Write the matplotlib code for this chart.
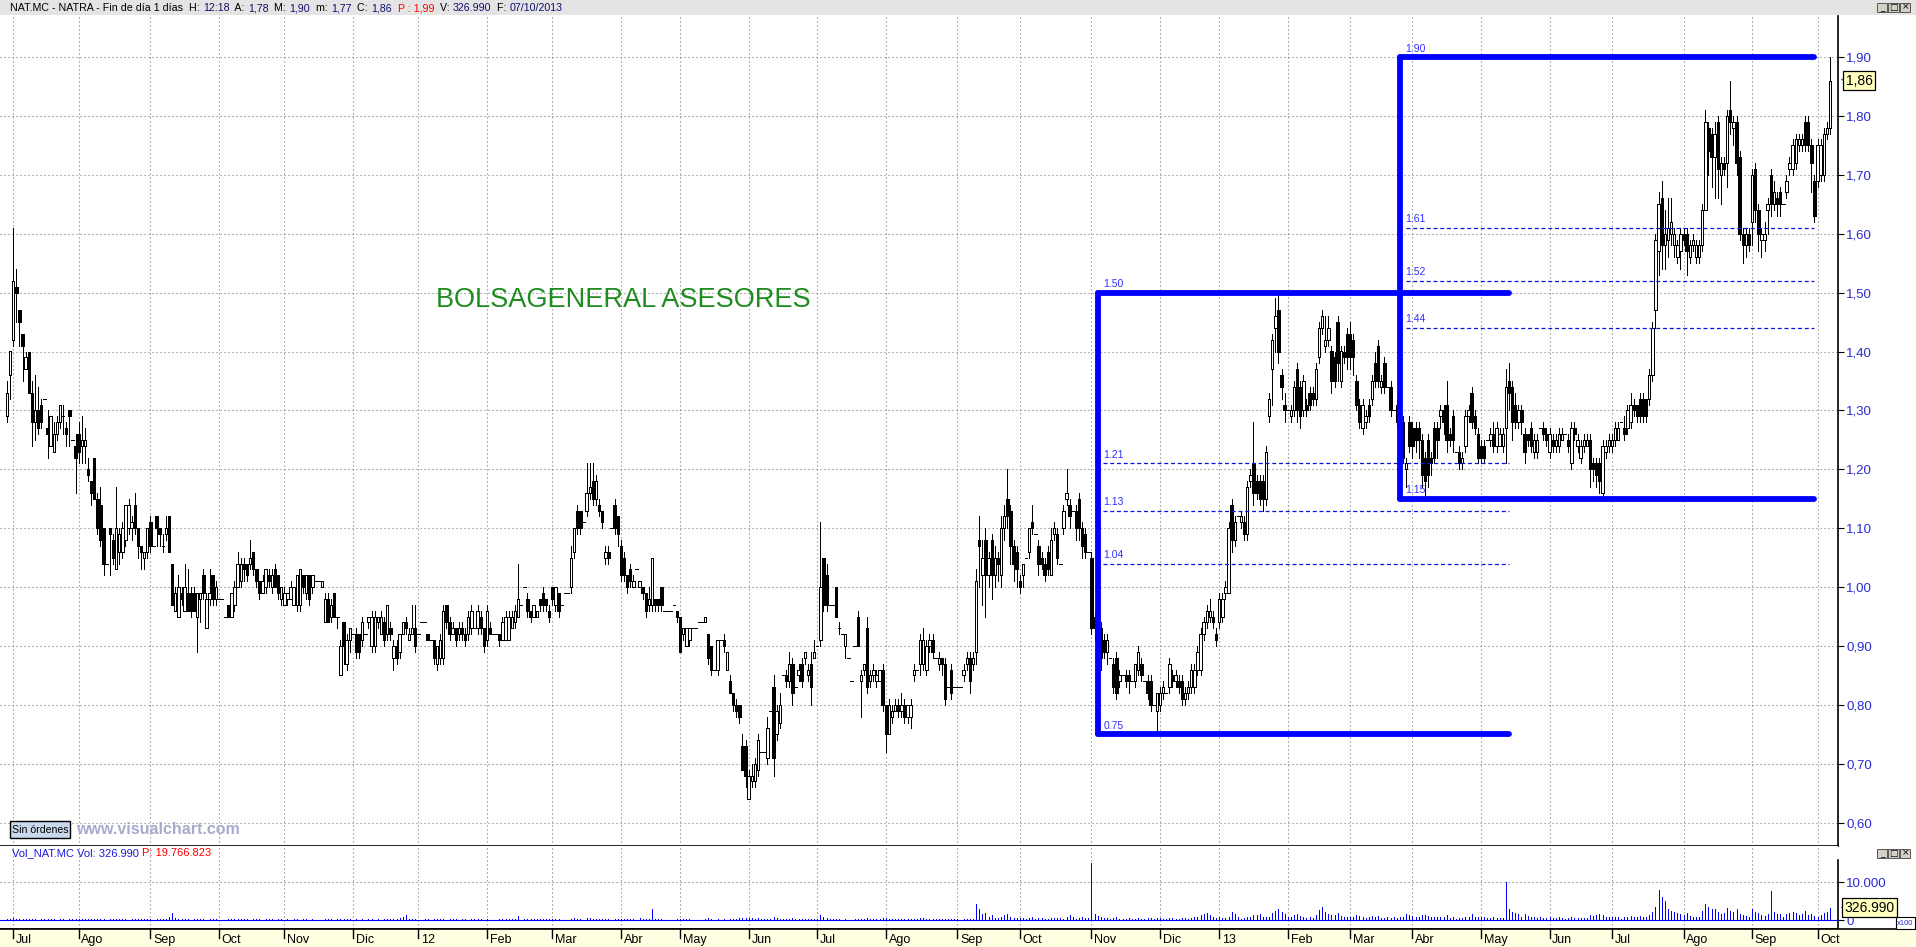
import matplotlib
matplotlib.use("Agg")
import matplotlib.transforms as mtransforms
from matplotlib import pyplot as plt
from matplotlib.patches import Rectangle

plt.rcParams["font.family"] = ["Liberation Sans", "DejaVu Sans"]

# daily bars in cents, one string per month: "open,close,high,low" / "open,close" / "price" (flat)
JUN11 = "129,133,135,128 136,140,140,132"
JUL11 = ("142,152,161,141 151,150,154,145 147,145,147,141 143,141,143,135 137,139,140,137 140,133 "
         "133,128,135,124 128,130,136,125 130,127,134,126 131,128,132,127 132 127,126,130,122 124,129 "
         "123,126,128,123 126,128,129,125 128,131,131,127 129,129,131,126 127,126,128,124 130,129,130,124 "
         "125 124,122,126,116")
AGO11 = ("126,123,128,121 124,125,129,121 124,125,127,121 120,119,122,118 118,116,118,114 122,115,122,115 "
         "115,110,116,109 114,108,117,107 110,104,110,102 104 110,109,110,102 108,105,109,104 103,110,117,103 "
         "106,109,110,104 106,110,111,105 108,114,114,107 110,114,115,109 110,111,112,108 114,110,116,109 "
         "110,107,110,105 107,106,107,103 105,106,106,103 106,110,110,105")
SEP11 = ("111,107,112,106 107 112,110,112,107 110,109,110,107 107,107,109,106 109,110,112,108 112,106,112,106 "
         "104,97,104,97 96,99,100,96 95,100,102,95 99,98,100,97 96,100,104,96 99,96,103,96 99,96,100,95 "
         "99,96,100,96 95,99,99,89 98,99,99,94 102,99,103,98 93,98,99,93 98,99,103,97 102,98,102,97 98,100,101,97")
OCT11 = ("98 98 95 97,95,97,95 95,99,99,95 97,100,101,96 100,104,106,100 101,104,105,100 104,103,105,101 "
         "104,102,104,101 104,105,108,103 106,103,106,102 103,101,103,100 101,99,101,98 99,101,102,99 "
         "100,103,103,99 102,101,103,100 100,102,103,99 103,100,104,100 102,99,102,98 98,100,100,97")
NOV11 = ("97,99,100,97 98,99,99,97 98,100,101,98 97,100,100,97 97,102,102,96 97,103,103,96 102,100,102,99 "
         "99,102,102,98 102,98,102,97 100,102,102,99 101 101 100,101,101,100 94,98,99,94 98,94,99,94 "
         "95,97,98,94 99,95,99,95 95,95,95,93 85,90,91,85 94,90,94,87 87,91,92,86 91,93,93,89")
DIC11 = ("92 92,89,93,88 92,89,92,88 91,94,95,90 92 94,95,95,93 90,95,96,89 90,95,96,89 94,95,95,93 "
         "92,95,96,92 94,91,95,90 92,97,97,91 93,92,94,91 88,90,91,86 90,88,91,87 89,92,92,88 92,94,94,92 "
         "94,93,95,92 91,92,93,91 92,93,97,92 93,90,97,89")
JAN12 = ("92 94 94 92,91,92,91 91 91,88,91,87 87,90,90,86 88,91,92,87 88,96,97,87 97,94,97,93 94,92,95,91 "
         "92,93,94,92 93,91,93,90 92,93,94,91 93,92,94,91 92,91,93,90 92,95,96,91 93,96,97,92 93 "
         "93,96,97,92 95,93,96,92 93,90,93,89")
FEB12 = ("91,96,97,90 93,92,94,92 92 92 92,91,92,90 91,94,95,91 91,95,96,91 91,95,96,91 93,95,96,93 "
         "94,96,97,93 95,98,104,95 97 100 98,96,99,95 96,95,96,94 95,97,97,95 95,96,96,95 98,97,98,96 "
         "99,97,100,96 98,97,98,96 96,95,97,94")
MAR12 = ("100,98,100,97 97,100,100,96 99,96,99,95 97 99 99 100,105,107,99 106,110,110,105 113,110,114,109 "
         "113,110,113,109 111 113,116,121,112 116,117,121,115 118,115,121,114 115,118,119,114 114,113,115,112 "
         "113,111,113,110 105,106,107,104 106,105,107,104 110 114,110,115,109 112,109,112,107")
ABR12 = ("107,102,108,101 105,102,106,101 102,100,102,99 103,101,104,100 100,101,102,100 103 100,101,101,100 "
         "100,99,100,98 99,96,99,95 97,98,100,96 97,105,105,96 98,97,98,96 98,97,98,96 100,97,100,96 "
         "96 96 96 97 96,95,96,94")
MAY12 = ("95,89,95,89 92,93,93,91 90,93,93,90 91,93,93,90 93 93 94 94 94,95,95,94 92,88,92,87 90,86,90,85 "
         "86 86,91,91,85 91 91,90,92,89 86,89,89,86 84,82,85,82 82,80,82,79 80,79,81,78 80,78,80,77 "
         "73,69,75,69 73,68,74,66")
JUN12 = ("64,68,69,64 67,68,70,66 67,70,71,66 69,74,75,68 72 72 71,76,78,70 79 83,71,85,68 75,79,80,74 "
         "77,80,82,76 85 85,84,86,83 84,87,89,83 87,82,88,80 83 85,86,87,84 87,84,88,83 88,89,89,87 "
         "85,86,87,84 87,83,89,80 88,89,91,88")
JUL12 = ("90 91,100,111,90 105,97,105,96 102,97,104,96 97 97 100,95,100,95 93,93,94,92 92 90,92,92,88 88 84 "
         "90 95,90,96,90 84,85,86,78 86,87,87,85 93,83,95,82 84,85,86,83 85,86,87,84 84,85,86,83 "
         "84,86,86,84 86,80,87,79")
AGO12 = ("80,75,80,72 75,80,81,75 78,79,80,77 79,80,81,79 80,79,81,78 79,80,82,78 80,78,81,77 78,80,80,77 "
         "78,80,81,76 85,86,87,84 86 87,91,92,85 87,91,93,86 86,90,91,85 90,91,92,89 91,89,92,88 88 "
         "87,88,89,86 88,87,88,85 87,81,88,80 83 86,82,87,81 83")
SEP12 = ("83 83 85,86,87,84 87,88,89,86 88,84,89,82 87,88,89,86 89,101,103,87 108,107,112,100 "
         "102,105,108,97 108,102,110,95 102,105,106,100 108,102,109,98 102,105,107,100 105,104,106,101 "
         "102,110,112,100 110,112,114,108 115,112,120,110 113,107,114,104 107,104,108,101 106,103,107,100")
OCT12 = ("101,100,102,99 102,104,104,100 105 106,110,110,105 111,110,114,109 109 107,104,108,102 "
         "105,104,106,103 104,102,105,101 106,103,107,102 102,108,110,102 109,110,111,108 109,105,110,104 "
         "104 110,113,114,109 115,116,120,114 114,112,115,110 113 113,110,114,108 115,110,116,108 "
         "110,107,111,105 109,106,110,105 106")
NOV12 = ("105,93,106,92 95,93,96,91 95,91,96,89 93,88,94,86 91,89,92,88 89,91,92,87 88 87,83,88,82 "
         "88,82,89,81 84,85,86,83 85 85,84,86,83 85,84,86,82 84 84,87,87,83 86,89,90,85 87,85,88,84 84 "
         "84,82,85,81 84,80,85,79 80 79,82,82,75")
DIC12 = ("80,82,83,79 82,83,84,81 82 83,87,88,82 85,84,86,83 84,85,86,83 84,83,85,82 84,81,85,80 "
         "81,82,83,80 82,83,84,81 83,86,87,82 83,86,87,82 86,89,90,85 86,92,93,85 92,94,95,91 94,96,97,93 "
         "95,96,98,94 95,94,96,93 92,91,93,90")
JAN13 = ("94,98,99,93 95,98,99,94 99,100,101,98 99,110,111,99 114,108,115,106 108,111,112,107 112 "
         "111,112,113,110 111,109,112,108 109,117,118,108 118,119,120,117 121,116,128,114 118,116,119,115 "
         "118,115,119,114 118,115,119,113 115,123,124,114 129,132,133,128 137,142,143,131 144,146,149,140 "
         "147,140,150,138 136,134,137,132 131,130,133,128")
FEB13 = ("130 129,130,131,128 130,134,135,129 137,130,138,128 134,129,135,127 130,135,136,129 "
         "131,130,132,129 133,131,134,130 133,132,134,131 132,137,138,131 139,144,145,138 144,146,147,143 "
         "141,142,146,140 142,144,146,141 140,135,141,133 139,135,140,134 145,138,146,135 135,140,141,134 "
         "140,139,141,138 143,139,144,137")
MAR13 = ("143,139,145,137 142,139,143,136 135,131,136,130 131,128,132,127 127,131,132,126 128,129,130,127 "
         "131,129,132,128 132,135,136,131 138,135,140,134 141,135,142,134 134,135,136,133 138,134,139,133 "
         "134 134,130,135,129 130 131,128,132,127 131,128,132,126 128,122,129,121 120,121,122,117 "
         "128,124,129,123")
ABR13 = ("127,124,128,122 127,125,128,123 127,125,128,122 125,119,126,117 122,118,123,115 125,119,126,117 "
         "122,121,123,119 127,122,128,121 127,125,128,122 129,130,131,127 130,128,131,126 131,125,135,123 "
         "126,125,127,124 129,125,130,123 123 123,121,124,120 121,122,123,120 124,129,130,123 "
         "129,130,131,128 133,128,134,127 129,127,130,126 126,122,127,121")
MAY13 = ("124,122,125,121 124,122,125,121 125 125,126,127,124 126,124,128,123 124,127,128,123 "
         "124,126,127,124 124,126,127,123 127,134,137,121 135,133,138,130 134,128,135,125 131,128,133,127 "
         "128,130,131,127 130,128,131,126 126,123,127,121 126,125,126,124 127,124,128,123 123,125,126,122 "
         "123,125,126,122 127 127,126,128,125 126,125,127,124")
JUN13 = ("123,126,127,122 125,124,126,123 124,125,126,123 124,126,127,123 125,126,127,125 126 "
         "125,124,126,123 121,127,128,120 127,126,128,125 124,125,126,123 122,124,125,121 124,125,126,123 "
         "124,125,126,124 125,120,126,117 121,120,122,118 121,119,122,117 121,118,122,116 116,124,125,115 "
         "123,124,125,122 124,125,126,123")
JUL13 = ("124,125,126,123 125,127,128,124 125,127,128,125 128 127,126,129,125 127,130,131,126 "
         "128,131,133,127 131,130,132,129 131,129,131,128 132,129,133,128 132,129,133,128 132,129,132,128 "
         "132,136,137,131 136,144,145,135 147,159,160,144 157,165,167,153 166,158,169,154 158,160,164,154 "
         "159,161,166,156 160,162,166,158 158,160,161,156 156,158,159,155 157,160,161,154")
AGO13 = ("160,159,161,158 160,157,161,153 156,158,159,155 158,159,160,157 156,158,159,155 156,158,159,155 "
         "158,164,165,157 164,179,181,164 178,174,179,170 177,173,178,168 173,177,179,166 179,171,180,166 "
         "170,172,173,165 172,171,173,170 172,180,181,168 181,179,186,177 178,179,180,175 179,172,180,170 "
         "173,160,174,159 160,158,161,155 158,160,161,156 160,158,161,157")
SEP13 = ("162,170,171,158 171,164,172,162 164,160,165,157 159,160,161,156 159,160,162,157 164,165,166,160 "
         "170,165,171,163 165,167,169,164 166,165,167,163 167,165,168,163 165 167,169,170,166 "
         "171,172,173,170 171,175,176,170 172,176,177,171 175,176,177,174 175,176,177,174 179,175,180,174 "
         "179,175,180,174 175,172,176,167 169,163,170,162")
OCT13 = "169,175,176,168 170,175,176,169 170,177,178,169 177,178,179,176 178,186,190,177"

# daily volume, hundreds of shares, same order
V_JUN11 = "300 250"
V_JUL11 = "400 300 200 250 150 300 200 250 100 150 200 300 250 150 100 200 150 100 250 200 150"
V_AGO11 = "200 250 300 150 200 350 300 200 250 100 300 150 200 150 250 200 100 150 200 250 150 200 300"
V_SEP11 = "150 100 250 200 150 300 800 1900 400 300 200 150 250 100 200 300 150 200 100 150 250 200"
V_OCT11 = "100 100 50 150 200 150 300 250 150 200 100 300 200 150 100 250 200 150 100 200 150"
V_NOV11 = "100 150 100 200 150 100 250 200 100 150 50 50 100 200 150 250 100 150 300 200 150 200"
V_DIC11 = "100 150 100 200 100 150 200 100 150 100 250 300 150 200 350 500 800 1300 300 200 150"
V_JAN12 = "100 100 150 200 100 150 200 300 150 100 250 200 150 100 150 200 100 150 200 250 150 100"
V_FEB12 = "200 100 50 50 150 300 200 250 150 350 1050 100 150 200 250 150 200 300 250 200 150"
V_MAR12 = "200 250 150 100 100 100 300 400 350 250 100 450 500 350 300 250 200 150 200 100 250 300"
V_ABR12 = "250 200 150 200 300 100 400 300 250 200 2800 300 200 150 100 100 100 100 200"
V_MAY12 = "300 200 250 150 100 100 100 100 150 400 350 100 250 100 200 100 200 300 350 400 500 600"
V_JUN12 = "500 400 300 450 200 200 350 150 800 400 300 150 200 250 400 200 150 250 300 200 250 300"
V_JUL12 = "200 1200 800 500 200 200 300 250 100 200 100 100 200 350 150 200 500 250 200 150 200 400"
V_AGO12 = "500 300 200 150 200 150 250 200 300 250 150 400 450 300 250 200 150 200 250 300 150 250 150"
V_SEP12 = "150 100 200 250 300 200 4200 2900 1500 1900 800 1200 600 500 900 1300 1600 900 600 500"
V_OCT12 = "400 500 200 600 700 200 500 400 300 200 400 600 500 400 200 700 1400 800 300 600 900 500 400"
V_NOV12 = "15000 1500 1000 800 500 400 200 600 700 300 200 300 400 200 300 500 300 200 400 500 200 400"
V_DIC12 = "500 300 200 600 400 300 300 500 400 300 600 700 900 1300 1500 1800 1200 800 600"
V_JAN13 = "700 600 500 800 2200 1500 900 300 600 700 800 1400 1200 1600 900 800 700 1800 2500 3000 2200 1500"
V_FEB13 = "700 800 1200 1500 1000 900 600 700 600 1200 2600 3500 2000 1500 1300 1200 1800 1000 800 900"
V_MAR13 = "900 800 1200 1000 900 600 700 1000 800 1000 500 600 800 400 900 400 700 800 1500 1300"
V_ABR13 = "1000 900 800 1300 1400 1100 700 800 900 900 700 1200 600 800 300 600 500 900 800 1500 700 800"
V_MAY13 = "900 800 400 600 700 500 600 500 9900 2800 2200 1800 1500 900 1500 1100 900 800 400 700 600 500"
V_JUN13 = "700 600 500 700 400 300 500 900 600 500 600 500 400 1400 1000 1200 1600 1400 900 800"
V_JUL13 = "700 900 800 300 700 900 1000 900 800 1000 900 800 1300 2200 3500 7900 6000 5000 3000 2500 2000 1800 1500"
V_AGO13 = "1200 1800 1000 900 800 700 2500 4200 3500 3000 2800 2200 1500 1800 3200 2500 2200 3000 1500 1200 1000 900"
V_SEP13 = "2800 2200 1800 1200 1000 1500 7700 2000 1500 1700 900 1500 1800 2200 1800 1200 1500 2500 1300 1500 1000"
V_OCT13 = "900 1200 1800 2000 3270"

MONTH_LABELS = ["", "Jul", "Ago", "Sep", "Oct", "Nov", "Dic", "12", "Feb", "Mar", "Abr", "May", "Jun",
                "Jul", "Ago", "Sep", "Oct", "Nov", "Dic", "13", "Feb", "Mar", "Abr", "May", "Jun",
                "Jul", "Ago", "Sep", "Oct"]
PRICE_MONTHS = [JUN11, JUL11, AGO11, SEP11, OCT11, NOV11, DIC11, JAN12, FEB12, MAR12, ABR12, MAY12, JUN12,
                JUL12, AGO12, SEP12, OCT12, NOV12, DIC12, JAN13, FEB13, MAR13, ABR13, MAY13, JUN13,
                JUL13, AGO13, SEP13, OCT13]
VOLUME_MONTHS = [V_JUN11, V_JUL11, V_AGO11, V_SEP11, V_OCT11, V_NOV11, V_DIC11, V_JAN12, V_FEB12, V_MAR12,
                 V_ABR12, V_MAY12, V_JUN12, V_JUL12, V_AGO12, V_SEP12, V_OCT12, V_NOV12, V_DIC12, V_JAN13,
                 V_FEB13, V_MAR13, V_ABR13, V_MAY13, V_JUN13, V_JUL13, V_AGO13, V_SEP13, V_OCT13]

# fibonacci boxes drawn on the chart: first bar, last bar, low, high, levels
FIB_BOXES = [
    (350, 482, 0.75, 1.50, [1.21, 1.13, 1.04]),
    (447, 580, 1.15, 1.90, [1.61, 1.52, 1.44]),
]
PRICE_TICKS = [0.6, 0.7, 0.8, 0.9, 1.0, 1.1, 1.2, 1.3, 1.4, 1.5, 1.6, 1.7, 1.8, 1.9]
LAST_CLOSE = 1.86
LAST_VOLUME = 3269.9

# ---- parse ----
opens, highs, lows, closes, vols, month_start = [], [], [], [], [], []
for prices, volumes in zip(PRICE_MONTHS, VOLUME_MONTHS):
    toks, vv = prices.split(), volumes.split()
    if len(toks) != len(vv):
        raise ValueError(f"count mismatch {prices[:25]!r}: {len(toks)} bars, {len(vv)} volumes")
    month_start.append(len(opens))
    for tok, v in zip(toks, vv):
        p = [int(t) / 100 for t in tok.split(",")]
        if len(p) == 1:
            o = c = h = l = p[0]
        elif len(p) == 2:
            o, c = p
            h, l = max(p), min(p)
        else:
            o, c, h, l = p
        opens.append(o); closes.append(c); highs.append(h); lows.append(l); vols.append(int(v))
n = len(opens)
idx = list(range(n))

W, H = 1916, 947
fig = plt.figure(figsize=(W / 100, H / 100), dpi=100)
fig.patch.set_facecolor("white")


def px_axes(x0, y0, x1, y1):
    return fig.add_axes([x0 / W, 1 - y1 / H, (x1 - x0) / W, (y1 - y0) / H])


step = (1830 - 7) / (n - 1)
xlim = (-7 / step, (1838 - 7) / step)
grid_kw = dict(color="#7a7a7a", lw=0.8, linestyle=(0, (1, 2.6)), zorder=1)
AXIS_BLUE = "#2a2ad0"

# ---- price panel ----
ax = px_axes(0, 16, 1838, 846)
ax.set_xlim(*xlim)
ax.set_ylim(1.90 - (846 - 57) / 589, 1.90 + (57 - 16) / 589)
for s in ("left", "top"):
    ax.spines[s].set_visible(False)
for s in ("right", "bottom"):
    ax.spines[s].set_linewidth(1.2)
ax.set_xticks([])
ax.yaxis.tick_right()
ax.set_yticks(PRICE_TICKS)
ax.set_yticklabels([f"{t:.2f}".replace(".", ",") for t in PRICE_TICKS], color=AXIS_BLUE, fontsize=9.5)
ax.tick_params(axis="y", length=4, width=0.8, pad=2)
for t in PRICE_TICKS:
    ax.axhline(t, **grid_kw)
for s in month_start[1:]:
    ax.axvline(s, **grid_kw)

ax.vlines(idx, lows, highs, color="black", lw=0.72, zorder=3, antialiased=False)
for i in idx:
    o, c = opens[i], closes[i]
    if abs(c - o) < 0.004:
        ax.hlines(c, i - 0.4, i + 0.4, color="black", lw=0.72, zorder=4, antialiased=False)
    else:
        ax.bar(i, abs(c - o), bottom=min(o, c), width=0.78,
               color="white" if c > o else "black", edgecolor="black", lw=0.7, zorder=4, antialiased=False)

for x0, x1, low, high, levels in FIB_BOXES:
    thick = dict(color="#0000ff", lw=4.2, solid_capstyle="round", zorder=6)
    ax.plot([x0, x0], [low, high], **thick)
    ax.plot([x0, x1], [high, high], **thick)
    ax.plot([x0, x1], [low, low], **thick)
    for lv in levels:
        ax.plot([x0 + 1.8, x1], [lv, lv], color="#1010e0", lw=0.9, dashes=(3.2, 2.2), zorder=5)
    for lv in [high] + levels + [low]:
        ax.annotate(f"{lv:.2f}", (x0 + 1.8, lv), xytext=(0, 2.5), textcoords="offset points",
                    fontsize=7.5, color="#3030ff", va="bottom", ha="left", zorder=7)

# ---- volume panel ----
vax = px_axes(0, 846, 1838, 929)
vax.set_xlim(*xlim)
upx = 10000 / 38
vax.set_ylim(-(929 - 920) * upx, (920 - 846) * upx)
for s in ("left", "top"):
    vax.spines[s].set_visible(False)
vax.spines["right"].set_bounds(-(929 - 920) * upx, (920 - 860) * upx)
vax.spines["right"].set_linewidth(1.2)
vax.spines["bottom"].set_linewidth(1.2)
vax.set_xticks([])
vax.yaxis.tick_right()
vax.set_yticks([0, 10000])
vax.set_yticklabels(["0", "10.000"], color=AXIS_BLUE, fontsize=9.5)
vax.tick_params(axis="y", length=4, width=0.8, pad=2)
vax.axhline(10000, **grid_kw)
for s in month_start[1:]:
    vax.axvline(s, **grid_kw)
vax.axhline(0, color="#0000ff", lw=0.8, zorder=3)
vax.vlines(idx, 0, vols, color="#0000ff", lw=0.72, zorder=4, antialiased=False)

# ---- date strip ----
sax = px_axes(0, 929, 1916, 947)
sax.set_facecolor("#ffffe1")
sax.set_xlim(xlim[0], xlim[0] + (xlim[1] - xlim[0]) * 1916 / 1838)
sax.set_ylim(1, 0)
sax.set_xticks([]); sax.set_yticks([])
for s in ("left", "right", "bottom"):
    sax.spines[s].set_visible(False)
sax.spines["top"].set_linewidth(1.2)
for s, lab in zip(month_start, MONTH_LABELS):
    if lab:
        sax.plot([s, s], [0, 0.5], color="black", lw=1.0)
        sax.annotate(lab, (s, 0.62), xytext=(2, 0), textcoords="offset points",
                     fontsize=9, va="center", ha="left")

# ---- layout overlay (header, labels, tags) ----
ov = fig.add_axes([0, 0, 1, 1], zorder=10)
ov.set_xlim(0, W); ov.set_ylim(H, 0); ov.axis("off")
ov.add_patch(Rectangle((0, 0), W, 15, facecolor="#e4e4e4", edgecolor="none"))

renderer = fig.canvas.get_renderer()


def chain(x, y, parts, size):
    for text, col in parts:
        t = ov.text(x, y, text, color=col, fontsize=size, va="center", ha="left")
        bb = t.get_window_extent(renderer)
        x += bb.width * W / fig.bbox.width


NAVY = "#10106e"
chain(10, 8, [("NAT.MC - NATRA - Fin de día 1 días  H: ", "black"), ("12:18", NAVY), ("  A: ", "black"),
              ("1,78", NAVY), ("  M: ", "black"), ("1,90", NAVY), ("  m: ", "black"), ("1,77", NAVY),
              ("  C: ", "black"), ("1,86", NAVY), ("  P : 1,99", "red"), ("  V: ", "black"),
              ("326.990", NAVY), ("  F: ", "black"), ("07/10/2013", NAVY)], 7.7)
chain(12, 853, [("Vol_NAT.MC Vol: 326.990 ", "#1a1ad8"), ("P: 19.766.823", "red")], 8.0)

for yb in (3, 849):
    for k, glyph in enumerate(["_", "□", "×"]):
        bx = 1877 + k * 11.5
        ov.add_patch(Rectangle((bx, yb), 10.5, 9, facecolor="#d4d0c8", edgecolor="#555555", lw=0.7))
        ov.text(bx + 5.2, yb + 4.2, glyph, fontsize=6.5, ha="center", va="center", color="black",
                family=["DejaVu Sans"])

ov.text(436, 300, "BOLSAGENERAL ASESORES", fontsize=19.5, color="#1f8c1f", va="center", ha="left")
ov.add_patch(Rectangle((10, 821), 60, 17, facecolor="#c9d8ec", edgecolor="black", lw=1.0))
ov.text(40, 829.5, "Sin órdenes", fontsize=7.6, ha="center", va="center", color="black")
ov.text(76, 829, "www.visualchart.com", fontsize=11.5, fontweight="bold", color="#a7abcb",
        ha="left", va="center")

ov.add_patch(Rectangle((1896, 917), 19, 12, facecolor="white", edgecolor="black", lw=0.8))
ov.text(1905.5, 923.5, "x100", fontsize=5.5, ha="center", va="center", color=AXIS_BLUE)

# tags for last close / last volume, positioned through the data scales
tp = mtransforms.blended_transform_factory(ov.transData, ax.transData)
ax.text(1859, LAST_CLOSE, "1,86", transform=tp, fontsize=10, ha="center", va="center", clip_on=False,
        bbox=dict(boxstyle="square,pad=0.18", facecolor="#ffffc0", edgecolor="black", lw=0.9), zorder=20)
ax.text(1843, LAST_CLOSE, "<", transform=tp, fontsize=6, ha="center", va="center", clip_on=False)
tv = mtransforms.blended_transform_factory(ov.transData, vax.transData)
vax.text(1869.5, LAST_VOLUME, "326.990", transform=tv, fontsize=10, ha="center", va="center", clip_on=False,
         bbox=dict(boxstyle="square,pad=0.18", facecolor="#ffffc0", edgecolor="black", lw=0.9), zorder=20)
vax.text(1843, LAST_VOLUME, "<", transform=tv, fontsize=6, ha="center", va="center", clip_on=False)

fig.savefig("out.png", dpi=100)
